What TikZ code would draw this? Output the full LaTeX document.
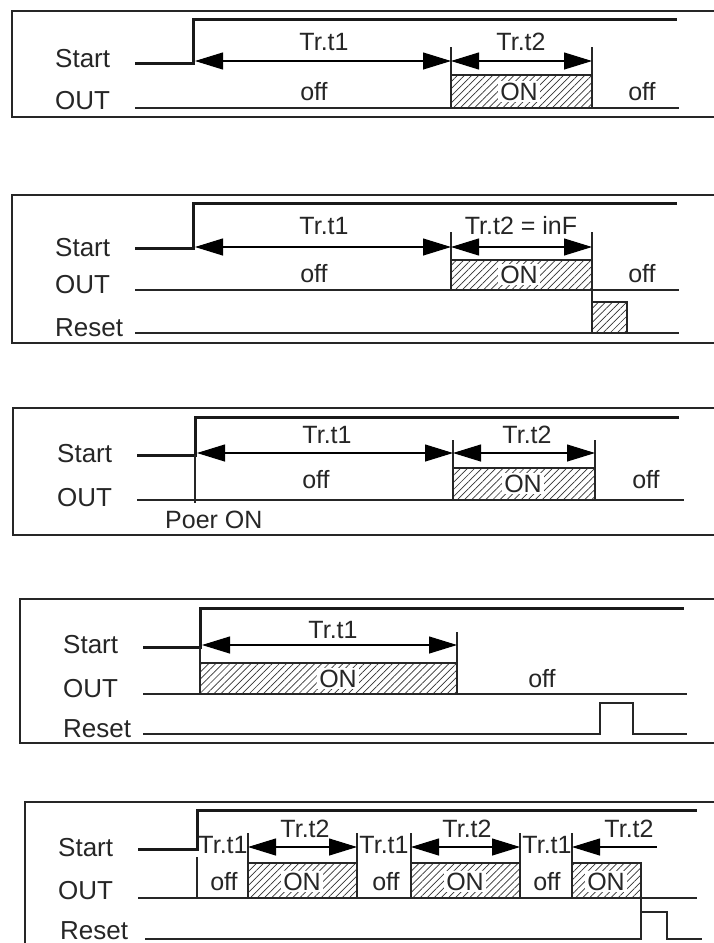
\documentclass[tikz,border=0pt]{standalone}
\usepackage{fontspec}
\setmainfont{Liberation Sans}
\usetikzlibrary{arrows.meta,patterns.meta}
\tikzset{
  frm/.style={line width=1.8pt, draw=black!85},
  sig/.style={line width=3pt, line join=miter, draw=black!90},
  thin/.style={line width=1.2pt, draw=black!85},
  tip/.tip={Triangle[length=28pt,width=17pt]},
  dimr/.style={line width=1.1pt, -tip},
  diml/.style={line width=1.1pt, tip-},
  dimb/.style={line width=1.1pt, tip-tip},
  hatch/.style={thin, pattern={Lines[angle=45,distance=5pt,line width=0.7pt]}, pattern color=black!80},
  side/.style={anchor=base west, inner sep=0pt, font=\fontsize{26}{28}\selectfont, text=black!85},
  lbl/.style={anchor=base, inner sep=0pt, font=\fontsize{25}{28}\selectfont, text=black!85},
  onl/.style={anchor=base, inner sep=2pt, fill=white, font=\fontsize{25}{28}\selectfont, text=black!85},
}
\begin{document}
\begin{tikzpicture}[x=1pt,y=-1pt]
\useasboundingbox (0,0) rectangle (714,943);
\clip (0,0) rectangle (714,943);
\fill[white] (0,0) rectangle (714,943);

% ---------- Panel 1 ----------
\draw[frm] (720,11) -- (12,11) -- (12,117) -- (720,117);
\node[side] (s1) at (55,67) {Start};
\node[side] (o1) at (55,109) {OUT};
\draw[sig] (135,63) -- (193,63) -- (193,19.5) -- (677,19.5);
\draw[hatch] (451,75) rectangle (592,108);
\draw[thin] (135,108) -- (679,108);
\draw[thin] (451,47) -- (451,75);
\draw[thin] (592,47) -- (592,75);
\coordinate (a1) at (195,61);
\coordinate (b1) at (451,61);
\coordinate (c1) at (592,61);
\draw[dimb] (a1) -- (b1);
\draw[dimb] (b1) -- (c1);
\node[lbl] at (324,50) {Tr.t1};
\node[lbl] at (521,50) {Tr.t2};
\node[lbl] at (314,100) {off};
\node[onl] at (519,100) {ON};
\node[lbl] at (642,100) {off};

% ---------- Panel 2 ----------
\draw[frm] (720,195) -- (12,195) -- (12,343) -- (720,343);
\node[side] (s2) at (55,256) {Start};
\node[side] (o2) at (55,293) {OUT};
\node[side] (r2) at (55,336) {Reset};
\draw[sig] (135,248) -- (193,248) -- (193,203) -- (677,203);
\draw[hatch] (451,260) rectangle (592,290);
\draw[hatch] (592,302) rectangle (627,333);
\draw[thin] (135,290) -- (679,290);
\draw[thin] (135,333) -- (679,333);
\draw[thin] (451,232) -- (451,260);
\draw[thin] (592,232) -- (592,333);
\coordinate (a2) at (195,247);
\coordinate (b2) at (451,247);
\coordinate (c2) at (592,247);
\draw[dimb] (a2) -- (b2);
\draw[dimb] (b2) -- (c2);
\node[lbl] at (324,234) {Tr.t1};
\node[lbl] at (521,234) {Tr.t2 = inF};
\node[lbl] at (314,282) {off};
\node[onl] at (519,283) {ON};
\node[lbl] at (642,282) {off};

% ---------- Panel 3 ----------
\draw[frm] (720,408) -- (13,408) -- (13,535) -- (720,535);
\node[side] (s3) at (57,462) {Start};
\node[side] (o3) at (57,506) {OUT};
\draw[sig] (137,455) -- (195,455) -- (195,417) -- (679,417);
\draw[thin] (195,455) -- (195,503);
\draw[hatch] (453,468) rectangle (595,500);
\draw[thin] (137,500) -- (684,500);
\draw[thin] (453,440) -- (453,468);
\draw[thin] (595,440) -- (595,468);
\coordinate (a3) at (197,453);
\coordinate (b3) at (453,453);
\coordinate (c3) at (595,453);
\draw[dimb] (a3) -- (b3);
\draw[dimb] (b3) -- (c3);
\node[lbl] at (327,443) {Tr.t1};
\node[lbl] at (527,443) {Tr.t2};
\node[lbl] at (316,488) {off};
\node[onl] at (523,492) {ON};
\node[lbl] at (646,488) {off};
\node[lbl, anchor=base west] at (165,528) {Poer ON};

% ---------- Panel 4 ----------
\draw[frm] (720,599) -- (20,599) -- (20,743) -- (720,743);
\node[side] (s4) at (63,653) {Start};
\node[side] (o4) at (63,697) {OUT};
\node[side] (r4) at (63,737) {Reset};
\draw[sig] (143,647) -- (200,647) -- (200,608) -- (684,608);
\draw[thin] (200,647) -- (200,663);
\draw[hatch] (200,663) rectangle (457,694);
\draw[thin] (143,694) -- (687,694);
\draw[thin] (457,632) -- (457,663);
\draw[thin] (143,734) -- (600,734) -- (600,703) -- (633,703) -- (633,734) -- (687,734);
\coordinate (a4) at (202,645);
\coordinate (b4) at (457,645);
\draw[dimb] (a4) -- (b4);
\node[lbl] at (333,638) {Tr.t1};
\node[onl] at (338,687) {ON};
\node[lbl] at (542,687) {off};

% ---------- Panel 5 ----------
\draw[frm] (720,802) -- (25,802) -- (25,960);
\node[side] (s5) at (58,856) {Start};
\node[side] (o5) at (58,899) {OUT};
\node[side] (r5) at (60,939) {Reset};
\draw[sig] (138,849) -- (197,849) -- (197,810) -- (697,810);
\draw[thin] (197,857) -- (197,898);
\draw[hatch] (248,863) rectangle (357,898);
\draw[hatch] (411,863) rectangle (520,898);
\draw[hatch] (572,863) rectangle (641,898);
\draw[thin] (138,898) -- (697,898);
\foreach \xx in {248,357,411,520,572} \draw[thin] (\xx,833) -- (\xx,863);
\draw[thin] (641,898) -- (641,912);
\draw[thin] (145,939) -- (641,939) -- (641,912) -- (667,912) -- (667,939) -- (702,939);
\coordinate (p1) at (248,847);
\coordinate (p2) at (357,847);
\coordinate (p3) at (411,847);
\coordinate (p4) at (520,847);
\coordinate (p5) at (572,847);
\coordinate (p6) at (657,847);
\draw[dimb] (p1) -- (p2);
\draw[dimb] (p3) -- (p4);
\draw[diml] (p5) -- (p6);
\node[lbl] at (223,853) {Tr.t1};
\node[lbl] at (384,853) {Tr.t1};
\node[lbl] at (547,853) {Tr.t1};
\node[lbl] at (305,837) {Tr.t2};
\node[lbl] at (467,837) {Tr.t2};
\node[lbl] at (629,837) {Tr.t2};
\node[lbl] at (224,890) {off};
\node[lbl] at (386,890) {off};
\node[lbl] at (547,890) {off};
\node[onl] at (302,890) {ON};
\node[onl] at (465,890) {ON};
\node[onl] at (606,890) {ON};
\end{tikzpicture}
\end{document}
